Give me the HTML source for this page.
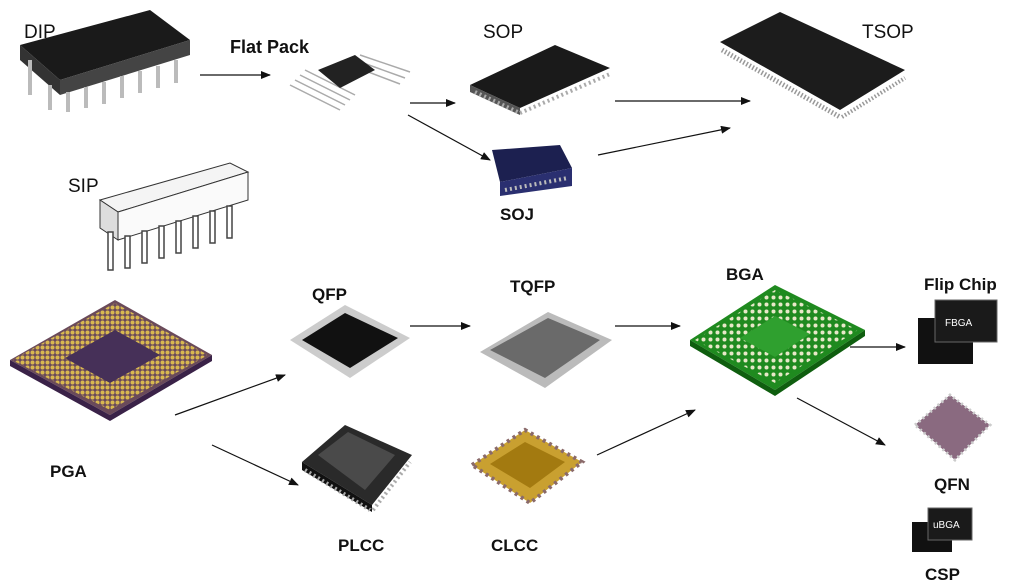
<!DOCTYPE html>
<html><head><meta charset="utf-8"><style>
body{margin:0;background:#fff;width:1026px;height:582px;overflow:hidden}
svg{display:block}
text{font-family:"Liberation Sans",sans-serif;fill:#111}
.b{font-weight:bold}
</style></head><body>
<svg width="1026" height="582" viewBox="0 0 1026 582" xmlns="http://www.w3.org/2000/svg">
<defs>
<marker id="a" markerWidth="10" markerHeight="8" refX="9" refY="4" orient="auto" markerUnits="userSpaceOnUse"><path d="M0,0 L10,4 L0,8 z" fill="#111"/></marker>
<pattern id="dots" width="7" height="7" patternUnits="userSpaceOnUse"><circle cx="3.5" cy="3.5" r="2" fill="#e8e8c8"/></pattern>
<pattern id="pins" width="5" height="5" patternUnits="userSpaceOnUse"><circle cx="2.5" cy="2.5" r="2" fill="#d8b850"/></pattern>
</defs>
<!-- DIP -->
<g>
<polygon points="20,45 150,10 190,40 60,80" fill="#1a1a1a"/>
<polygon points="20,45 60,80 60,95 20,60" fill="#333"/>
<polygon points="60,80 190,40 190,55 60,95" fill="#444"/>
<g stroke="#bbb" stroke-width="4">
<line x1="30" y1="60" x2="30" y2="95"/><line x1="50" y1="85" x2="50" y2="110"/><line x1="68" y1="92" x2="68" y2="112"/><line x1="86" y1="87" x2="86" y2="108"/><line x1="104" y1="82" x2="104" y2="104"/><line x1="122" y1="76" x2="122" y2="98"/><line x1="140" y1="71" x2="140" y2="93"/><line x1="158" y1="66" x2="158" y2="88"/><line x1="176" y1="60" x2="176" y2="83"/>
</g>
</g>
<text x="24" y="38" font-size="19">DIP</text>
<!-- Flat Pack -->
<text x="230" y="53" font-size="18" class="b">Flat Pack</text>
<g stroke="#aaa" stroke-width="1.5">
<line x1="290" y1="85" x2="340" y2="110"/><line x1="295" y1="80" x2="345" y2="105"/><line x1="300" y1="75" x2="350" y2="100"/><line x1="360" y1="55" x2="410" y2="72"/><line x1="355" y1="60" x2="405" y2="78"/><line x1="350" y1="65" x2="400" y2="84"/><line x1="305" y1="70" x2="355" y2="95"/>
</g>
<polygon points="318,70 355,55 375,70 340,88" fill="#222"/>
<!-- SOP -->
<text x="483" y="38" font-size="19">SOP</text>
<polygon points="470,85 555,45 610,68 520,108" fill="#1a1a1a"/>
<polygon points="470,85 520,108 520,115 470,92" fill="#555"/>
<line x1="475" y1="92" x2="520" y2="113" stroke="#aaa" stroke-width="4" stroke-dasharray="2,3"/>
<line x1="520" y1="113" x2="610" y2="74" stroke="#aaa" stroke-width="4" stroke-dasharray="2,3"/>
<!-- TSOP -->
<text x="862" y="38" font-size="19">TSOP</text>
<polygon points="720,42 780,12 905,70 840,110" fill="#1c1c1c"/>
<line x1="722" y1="50" x2="840" y2="117" stroke="#999" stroke-width="5" stroke-dasharray="1.5,2"/>
<line x1="842" y1="117" x2="905" y2="78" stroke="#999" stroke-width="4" stroke-dasharray="1.5,2"/>
<!-- SIP -->
<text x="68" y="192" font-size="19">SIP</text>
<polygon points="100,200 230,163 248,172 118,212" fill="#f4f4f4" stroke="#333"/>
<polygon points="100,200 118,212 118,240 100,228" fill="#ddd" stroke="#333"/>
<polygon points="118,212 248,172 248,200 118,240" fill="#fafafa" stroke="#333"/>
<g stroke="#444" stroke-width="1.5" fill="#fff">
<rect x="108" y="232" width="5" height="38"/><rect x="125" y="236" width="5" height="32"/><rect x="142" y="231" width="5" height="32"/><rect x="159" y="226" width="5" height="32"/><rect x="176" y="221" width="5" height="32"/><rect x="193" y="216" width="5" height="32"/><rect x="210" y="211" width="5" height="32"/><rect x="227" y="206" width="5" height="32"/>
</g>
<!-- SOJ -->
<polygon points="492,150 560,145 572,168 500,182" fill="#1c2050"/>
<polygon points="500,182 572,168 572,186 500,196" fill="#2a2f70"/>
<line x1="505" y1="190" x2="568" y2="178" stroke="#bbb" stroke-width="4" stroke-dasharray="2,3"/>
<text x="500" y="220" font-size="17" class="b">SOJ</text>
<!-- QFP -->
<text x="312" y="300" font-size="17" class="b">QFP</text>
<polygon points="290,340 345,305 410,338 350,378" fill="#ccc"/>
<polygon points="302,340 345,313 398,338 350,368" fill="#111"/>
<!-- TQFP -->
<text x="510" y="292" font-size="17" class="b">TQFP</text>
<polygon points="480,352 548,312 612,340 545,388" fill="#bbb"/>
<polygon points="490,350 548,318 600,340 545,378" fill="#6a6a6a"/>
<!-- BGA -->
<text x="726" y="280" font-size="17" class="b">BGA</text>
<polygon points="690,340 775,285 865,330 775,390" fill="#1f8a1f"/>
<polygon points="695,340 775,290 858,330 775,383" fill="url(#dots)"/>
<polygon points="740,338 775,316 810,334 775,357" fill="#2fa02f"/>
<polygon points="690,340 775,390 775,396 690,346" fill="#0f5e0f"/>
<polygon points="775,390 865,330 865,336 775,396" fill="#0f5e0f"/>
<!-- Flip Chip -->
<text x="924" y="290" font-size="17" class="b">Flip Chip</text>
<rect x="918" y="318" width="55" height="46" fill="#111"/>
<rect x="935" y="300" width="62" height="42" fill="#1a1a1a" stroke="#666"/>
<text x="945" y="326" font-size="10" style="fill:#fff">FBGA</text>
<!-- PGA -->
<polygon points="10,360 115,300 212,355 110,415" fill="#6a4a5a"/>
<polygon points="12,360 115,303 208,355 110,410" fill="url(#pins)"/>
<polygon points="65,358 115,330 160,355 110,383" fill="#463058"/>
<polygon points="10,360 110,415 110,421 10,366" fill="#3a2248"/>
<polygon points="110,415 212,355 212,361 110,421" fill="#3a2248"/>
<text x="50" y="477" font-size="17" class="b">PGA</text>
<!-- PLCC -->
<polygon points="302,462 345,425 412,455 372,505" fill="#2a2a2a"/>
<polygon points="318,455 348,432 395,455 365,490" fill="#4a4a4a"/>
<polygon points="302,462 372,505 372,512 302,470" fill="#111"/>
<line x1="305" y1="470" x2="370" y2="510" stroke="#aaa" stroke-width="4" stroke-dasharray="2,3"/>
<line x1="373" y1="510" x2="410" y2="462" stroke="#aaa" stroke-width="4" stroke-dasharray="2,3"/>
<text x="338" y="551" font-size="17" class="b">PLCC</text>
<!-- CLCC -->
<polygon points="472,465 525,430 582,462 530,503" fill="#c9a030"/>
<polygon points="490,464 525,442 565,462 530,488" fill="#a37a10"/>
<polygon points="472,465 525,430 582,462 530,503" fill="none" stroke="#8a6a6a" stroke-width="4" stroke-dasharray="3,4"/>
<text x="491" y="551" font-size="17" class="b">CLCC</text>
<!-- QFN -->
<polygon points="915,425 950,395 990,425 955,460" fill="#8a6a80"/>
<polygon points="915,425 950,395 990,425 955,460" fill="none" stroke="#ccc" stroke-width="3" stroke-dasharray="2,3"/>
<text x="934" y="490" font-size="17" class="b">QFN</text>
<!-- CSP -->
<rect x="912" y="522" width="40" height="30" fill="#111"/>
<rect x="928" y="508" width="44" height="32" fill="#1a1a1a" stroke="#666"/>
<text x="933" y="528" font-size="10" style="fill:#fff">uBGA</text>
<text x="925" y="580" font-size="17" class="b">CSP</text>
<!-- arrows -->
<g stroke="#111" stroke-width="1.2" fill="none" marker-end="url(#a)">
<line x1="200" y1="75" x2="270" y2="75"/>
<line x1="410" y1="103" x2="455" y2="103"/>
<line x1="408" y1="115" x2="490" y2="160"/>
<line x1="615" y1="101" x2="750" y2="101"/>
<line x1="598" y1="155" x2="730" y2="128"/>
<line x1="175" y1="415" x2="285" y2="375"/>
<line x1="212" y1="445" x2="298" y2="485"/>
<line x1="410" y1="326" x2="470" y2="326"/>
<line x1="615" y1="326" x2="680" y2="326"/>
<line x1="597" y1="455" x2="695" y2="410"/>
<line x1="850" y1="347" x2="905" y2="347"/>
<line x1="797" y1="398" x2="885" y2="445"/>
</g>
</svg>
</body></html>
